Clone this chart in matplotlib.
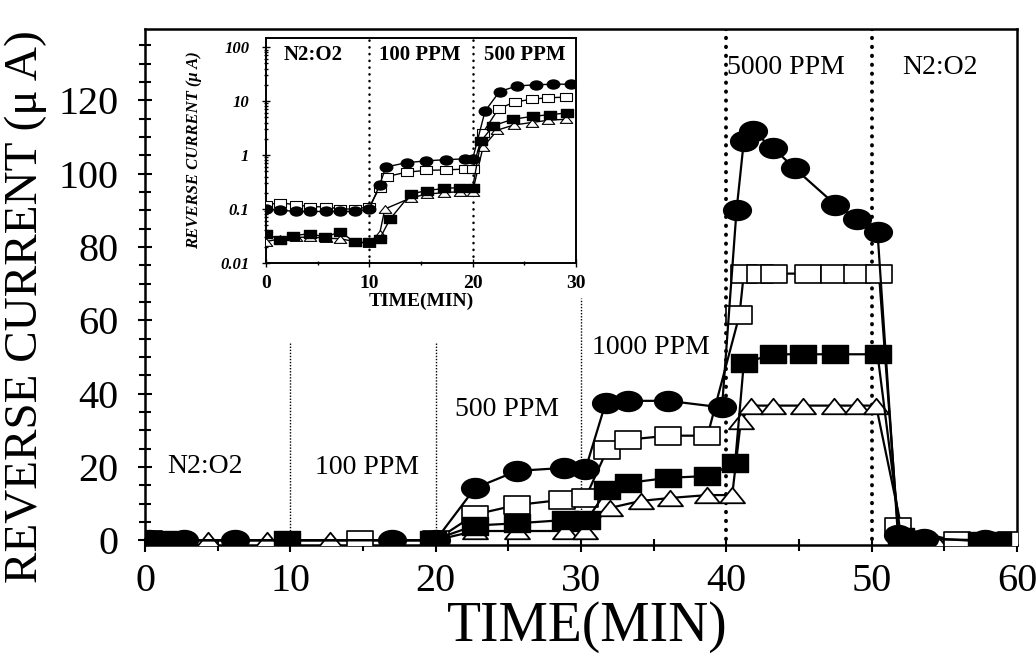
import numpy as np
import matplotlib
matplotlib.use("Agg")
import matplotlib.pyplot as plt
from matplotlib.path import Path
from matplotlib.transforms import Affine2D
from matplotlib.ticker import MultipleLocator, FixedLocator, LogLocator, NullFormatter

plt.rcParams['font.family'] = ['Liberation Serif', 'DejaVu Serif']

# ---------------- main chart data (time in min, current in uA) ----------------
circ_t = [0.3, 2.7, 6.2, 17.0, 20.0, 22.7, 25.6, 28.8, 30.3, 31.7, 33.2, 36.0, 39.7,
          40.7, 41.2, 41.8, 43.2, 44.7, 47.5, 49.0, 50.4, 51.8, 53.6, 57.8]
circ_y = [0, 0, 0, 0, 0, 14.2, 18.9, 19.7, 19.3, 37.5, 38.0, 38.0, 36.2,
          90.0, 108.8, 111.5, 107.0, 101.4, 91.5, 87.7, 84.0, 1.5, 0.3, 0]

osq_t = [0.3, 14.8, 20.0, 22.7, 25.6, 28.7, 30.3, 31.8, 33.2, 36.0, 38.7,
         40.9, 41.2, 42.3, 43.3, 45.6, 47.4, 49.0, 50.5, 51.8, 55.9, 59.6]
osq_y = [0, 0, 0, 7.0, 9.6, 11.0, 11.5, 24.7, 27.4, 28.5, 28.5,
         61.4, 72.7, 72.7, 72.7, 72.7, 72.7, 72.7, 72.7, 3.5, -0.3, -0.3]

fsq_t = [0.3, 1.3, 9.8, 19.8, 22.7, 25.6, 28.9, 30.4, 31.8, 33.2, 36.0, 38.7,
         40.6, 41.2, 43.2, 45.3, 47.5, 50.4, 52.0, 57.5, 58.7]
fsq_y = [0, 0, 0, 0, 4.0, 4.6, 5.5, 5.5, 13.7, 15.6, 17.0, 17.5,
         21.0, 48.3, 50.7, 50.7, 50.7, 50.7, 1.0, -0.3, -0.3]

tri_t = [0.3, 4.3, 8.4, 12.7, 20.0, 22.7, 25.6, 28.9, 30.3, 32.0, 34.1, 36.1, 38.7,
         40.4, 41.0, 41.7, 43.2, 45.3, 47.4, 49.0, 50.3, 52.2, 54.4, 59.7]
tri_y = [0, 0, 0, 0, 0, 2.5, 2.5, 2.5, 2.5, 8.8, 10.7, 11.5, 12.3,
         12.3, 32.6, 36.7, 36.7, 36.7, 36.7, 36.7, 36.7, 0.5, -0.5, -0.5]

main_xticks = [0, 10, 20, 30, 40, 50, 60]
main_yticks = [0, 20, 40, 60, 80, 100, 120]

# ---------------- inset data (log scale) ----------------
ins_circ_t = [0, 1.4, 2.9, 4.3, 5.8, 7.2, 8.6, 10.0, 11.0, 11.6, 13.6, 15.5, 17.4, 19.3, 20.0,
              21.2, 22.6, 24.3, 26.1, 27.8, 29.5]
ins_circ_y = [0.1, 0.095, 0.09, 0.09, 0.09, 0.09, 0.09, 0.1, 0.28, 0.6, 0.72, 0.78, 0.82, 0.85, 0.85,
              6.5, 15, 19, 20, 20.5, 20.5]

ins_osq_t = [0, 1.4, 2.9, 4.3, 5.8, 7.2, 8.6, 10.0, 11.0, 11.7, 13.6, 15.5, 17.4, 19.3, 20.0,
             21.0, 22.5, 24.1, 25.7, 27.3, 29.0]
ins_osq_y = [0.12, 0.13, 0.12, 0.11, 0.11, 0.1, 0.1, 0.11, 0.25, 0.4, 0.48, 0.52, 0.53, 0.55, 0.55,
             2.6, 7.2, 9.6, 10.8, 11.5, 11.8]

ins_fsq_t = [0, 1.35, 2.6, 4.3, 5.7, 7.2, 8.6, 10.0, 11.0, 12.0, 14.0, 15.6, 17.2, 18.8, 20.0,
             20.8, 22.0, 23.9, 25.8, 27.5, 29.1]
ins_fsq_y = [0.035, 0.027, 0.032, 0.035, 0.03, 0.038, 0.024, 0.024, 0.028, 0.065, 0.19, 0.22, 0.24, 0.25, 0.25,
             1.8, 3.5, 4.6, 5.2, 5.6, 6.0]

ins_tri_t = [0, 1.4, 2.9, 4.3, 5.8, 7.2, 8.6, 10.0, 11.0, 11.5, 14.0, 15.6, 17.2, 18.8, 20.0,
             21.0, 22.4, 24.0, 25.7, 27.3, 29.0]
ins_tri_y = [0.025, 0.028, 0.03, 0.03, 0.029, 0.028, 0.025, 0.023, 0.035, 0.1, 0.16, 0.19, 0.2, 0.21, 0.21,
             1.4, 2.9, 3.6, 4.0, 4.4, 4.6]

ins_xticks = [0, 10, 20, 30]
ins_yticks = [0.01, 0.1, 1, 10, 100]
ins_yticklabels = ['0.01', '0.1', '1', '10', '100']

# ---------------- marker shapes (wider than tall, as in the scan) ----------------
ell = Path.unit_circle().transformed(Affine2D().scale(1.0, 0.72))
rect = Path([(-1, -0.68), (1, -0.68), (1, 0.68), (-1, 0.68), (-1, -0.68)],
            [Path.MOVETO, Path.LINETO, Path.LINETO, Path.LINETO, Path.CLOSEPOLY])
tri = Path([(-1, -0.62), (1, -0.62), (0, 0.62), (-1, -0.62)],
           [Path.MOVETO, Path.LINETO, Path.LINETO, Path.CLOSEPOLY])

fig = plt.figure(figsize=(10.36, 6.67), dpi=100)
ax = fig.add_axes([0.140, 0.183, 0.8417, 0.774])

lw = 1.6
ax.plot(tri_t, tri_y, color='black', lw=lw, marker=tri, ms=18, mfc='white', mec='black', mew=1.3, zorder=3)
ax.plot(osq_t, osq_y, color='black', lw=lw, marker=rect, ms=19, mfc='white', mec='black', mew=1.2, zorder=4)
ax.plot(fsq_t, fsq_y, color='black', lw=lw, marker=rect, ms=19, mfc='black', mec='black', zorder=5)
ax.plot(circ_t, circ_y, color='black', lw=lw, marker=ell, ms=20, mfc='black', mec='black', zorder=6)

# separators
ax.plot([10, 10], [0, 54], color='black', lw=1.0, ls=(0, (1, 1.2)), zorder=2)
ax.plot([20, 20], [0, 54], color='black', lw=1.0, ls=(0, (1, 1.2)), zorder=2)
ax.plot([30, 30], [0, 66], color='black', lw=1.0, ls=(0, (1, 1.2)), zorder=2)
for xv in (40, 50):
    ax.plot([xv, xv], [-2, 140], color='black', lw=2.8, ls=(0, (0.1, 2.2)),
            dash_capstyle='round', zorder=2)

ax.set_xlim(0, 60)
ax.set_ylim(-1.3, 139.5)
ax.xaxis.set_major_locator(FixedLocator(main_xticks))
ax.yaxis.set_major_locator(FixedLocator(main_yticks))
ax.xaxis.set_minor_locator(MultipleLocator(5))
ax.yaxis.set_minor_locator(MultipleLocator(5))
ax.tick_params(which='both', direction='inout', width=1.5, top=False, right=False)
ax.tick_params(which='major', length=10)
ax.tick_params(which='minor', length=9)
ax.tick_params(axis='x', which='major', labelsize=29, pad=8)
ax.tick_params(axis='y', which='major', labelsize=29, pad=14)
for s in ax.spines.values():
    s.set_linewidth(1.8)

ax.set_xlabel('TIME(MIN)', fontsize=40)
ax.xaxis.set_label_coords(0.507, -0.108)
ax.set_ylabel('REVERSE CURRENT (\u03bc A)', fontsize=34)
ax.yaxis.set_label_coords(-0.112, 0.462)

tk = dict(fontsize=20, ha='center', va='center')
ax.text(4.1, 20, 'N2:O2', **tk)
ax.text(15.3, 19.8, '100 PPM', **tk)
ax.text(24.9, 35.6, '500 PPM', **tk)
ax.text(34.8, 52.6, '1000 PPM', **tk)
ax.text(44.1, 129, '5000 PPM', **tk)
ax.text(54.7, 129, 'N2:O2', **tk)

# ---------------- inset ----------------
ins = fig.add_axes([266 / 1036, 1 - 263 / 667, 310 / 1036, 225 / 667])
ilw = 1.0
ins.plot(ins_tri_t, ins_tri_y, color='black', lw=ilw, marker=tri, ms=9, mfc='white', mec='black', mew=0.8, zorder=3)
ins.plot(ins_osq_t, ins_osq_y, color='black', lw=ilw, marker=rect, ms=9, mfc='white', mec='black', mew=0.8, zorder=4)
ins.plot(ins_fsq_t, ins_fsq_y, color='black', lw=ilw, marker=rect, ms=9, mfc='black', mec='black', zorder=5)
ins.plot(ins_circ_t, ins_circ_y, color='black', lw=ilw, marker=ell, ms=9, mfc='black', mec='black', zorder=6)
for xv in (10, 20):
    ins.plot([xv, xv], [0.01, 200], color='black', lw=1.8, ls=(0, (0.1, 2.6)),
             dash_capstyle='round', zorder=2)
ins.set_yscale('log')
ins.set_xlim(0, 30)
ins.set_ylim(0.01, 147)
ins.xaxis.set_major_locator(FixedLocator(ins_xticks))
ins.xaxis.set_minor_locator(MultipleLocator(5))
ins.yaxis.set_major_locator(FixedLocator(ins_yticks))
ins.yaxis.set_minor_locator(LogLocator(base=10, subs=np.arange(2, 10)))
ins.yaxis.set_minor_formatter(NullFormatter())
ins.set_yticklabels(ins_yticklabels, fontsize=12, fontweight='bold', fontstyle='italic')
ins.set_xticklabels([str(v) for v in ins_xticks], fontsize=14, fontweight='bold')
ins.tick_params(which='both', direction='inout', width=1.0, top=False, right=False)
ins.tick_params(which='major', length=6)
ins.tick_params(which='minor', length=3)
ins.tick_params(axis='y', which='major', pad=9)
ins.tick_params(axis='x', which='major', pad=6)
for s in ins.spines.values():
    s.set_linewidth(1.4)
ins.set_xlabel('TIME(MIN)', fontsize=14, fontweight='bold', labelpad=0)
ins.set_ylabel('REVERSE CURRENT (\u03bc A)', fontsize=12, fontweight='bold', fontstyle='italic', labelpad=13)
itk = dict(fontsize=15, fontweight='bold', ha='center', va='center')
ins.text(4.6, 70, 'N2:O2', **itk)
ins.text(14.9, 70, '100 PPM', **itk)
ins.text(25.0, 70, '500 PPM', **itk)

fig.savefig('out.png', dpi=100)
